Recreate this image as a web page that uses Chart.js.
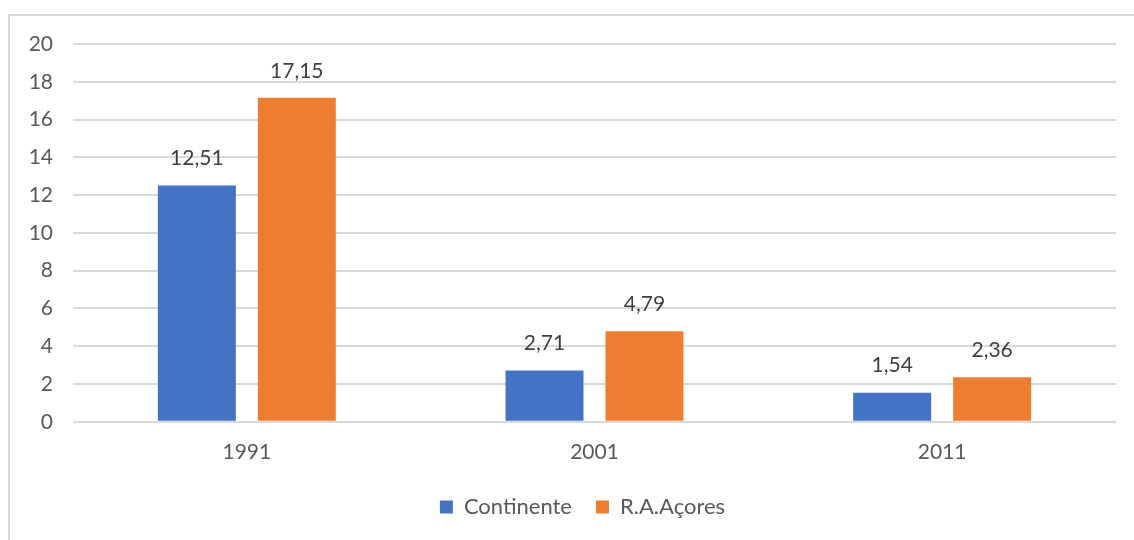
<!DOCTYPE html>
<html>
<head>
<meta charset="utf-8">
<script src="https://cdn.jsdelivr.net/npm/chart.js@4/dist/chart.umd.min.js"></script>
<style>
  html, body { margin: 0; padding: 0; background: #ffffff; }
  #wrap { position: relative; width: 1134px; height: 540px; }
</style>
</head>
<body>
<div id="wrap"><canvas id="c" width="1134" height="540"></canvas></div>
<script>
const categories = ['1991', '2001', '2011'];
const seriesNames = ['Continente', 'R.A.Açores'];
const continente = [12.51, 2.71, 1.54];
const acores = [17.15, 4.79, 2.36];
const yTicks = [0, 2, 4, 6, 8, 10, 12, 14, 16, 18, 20];

const FONT = 'Lato, "Open Sans", sans-serif';

const borderPlugin = {
  id: 'borderPlugin',
  beforeDraw(chart) {
    const ctx = chart.ctx;
    ctx.save();
    ctx.strokeStyle = '#d9d9d9';
    ctx.lineWidth = 2;
    ctx.strokeRect(9, 15, 3000, 3000);
    ctx.restore();
  }
};

const legendShift = {
  id: 'legendShift',
  afterLayout(chart) {
    if (chart.legend) { chart.legend.left += 40; }
  }
};

const valueLabels = {
  id: 'valueLabels',
  afterDatasetsDraw(chart) {
    const ctx = chart.ctx;
    ctx.save();
    ctx.font = '21px ' + FONT;
    ctx.fillStyle = '#404040';
    ctx.textAlign = 'center';
    ctx.textBaseline = 'middle';
    chart.data.datasets.forEach((ds, di) => {
      const meta = chart.getDatasetMeta(di);
      meta.data.forEach((bar, i) => {
        const txt = ds.data[i].toFixed(2).replace('.', ',');
        ctx.fillText(txt, bar.x, bar.y - 27);
      });
    });
    ctx.restore();
  }
};

new Chart(document.getElementById('c'), {
  type: 'bar',
  data: {
    labels: categories,
    datasets: [
      { label: seriesNames[0], data: continente, backgroundColor: '#4472C4',
        categoryPercentage: 0.575, barPercentage: 0.78 },
      { label: seriesNames[1], data: acores, backgroundColor: '#ED7D31',
        categoryPercentage: 0.575, barPercentage: 0.78 }
    ]
  },
  options: {
    responsive: false,
    animation: false,
    devicePixelRatio: 1,
    layout: { padding: { left: 9, right: 18, top: 44, bottom: 12 } },
    plugins: {
      tooltip: { enabled: false },
      legend: {
        position: 'bottom',
        labels: {
          boxWidth: 13, boxHeight: 13, padding: 24,
          color: '#595959',
          font: { family: FONT, size: 22 }
        }
      }
    },
    scales: {
      x: {
        afterFit(scale) { scale.height -= 11; },
        grid: { display: false, drawTicks: false },
        border: { display: false },
        ticks: { color: '#595959', font: { family: FONT, size: 21 }, padding: 18 }
      },
      y: {
        min: 0, max: 20,
        afterFit(scale) { scale.width = 64; },
        afterBuildTicks(scale) { scale.ticks = yTicks.map(v => ({ value: v })); },
        grid: { color: '#d9d9d9', lineWidth: 2, drawTicks: false },
        border: { display: false },
        ticks: { color: '#595959', font: { family: FONT, size: 21 }, padding: 20 }
      }
    }
  },
  plugins: [borderPlugin, legendShift, valueLabels]
});
</script>
</body>
</html>
